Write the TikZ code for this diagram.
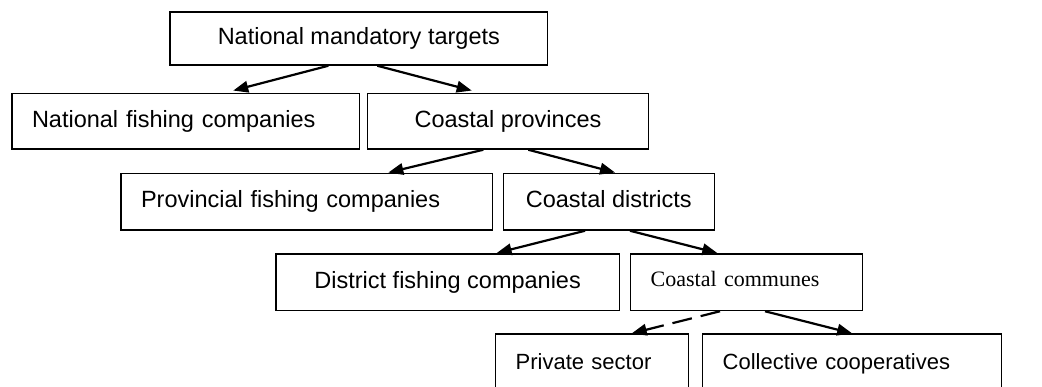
\documentclass[tikz,border=0pt]{standalone}
\usepackage{fontspec}
\setmainfont{Liberation Sans}
\newfontfamily\serifcc{Liberation Serif}
\usetikzlibrary{arrows.meta}

\begin{document}
\begin{tikzpicture}[node distance=80.5pt]
        % styles %
        \tikzstyle{level} = [rectangle,draw,line width=1.5pt,inner ysep=0pt,font=\fontsize{23.5}{28}\selectfont,text height=17pt,text depth=5pt];
        \tikzstyle{cbox} = [level];
        \tikzstyle{lbox} = [level,align=left,inner xsep=20pt];
        \tikzstyle{lowbox} = [lbox,font=\fontsize{22}{26}\selectfont,text height=16pt,text depth=2pt];
        \tikzstyle{dep} = [draw,line width=2.2pt,-{Triangle[length=15pt,width=11.5pt]}];
        \tikzstyle{depdash} = [dep,dash pattern=on 20pt off 9pt];

        \useasboundingbox (0,0) rectangle (1042pt,-387pt);

        % nodes %
        \node [cbox,minimum width=377.7pt,minimum height=53pt] (nmt) at (358.85pt,-38.5pt) {National mandatory targets};

        \node [lbox,text width=307.3pt,minimum height=55.7pt] (nfc) [below of = nmt, xshift=-173.2pt, yshift=-2.15pt] {National fishing companies};
        \node [cbox,minimum width=280.6pt,minimum height=55.7pt] (cp) [below of = nmt, xshift=149.15pt, yshift=-2.15pt] {Coastal provinces};

        \node [lbox,text width=331.3pt,minimum height=56.7pt] (pfc) [below of = cp, xshift=-201.35pt] {Provincial fishing companies};
        \node [cbox,minimum width=211pt,minimum height=56.7pt] (cd) [below of = cp, xshift=100.8pt] {Coastal districts};

        \node [cbox,minimum width=343.3pt,minimum height=56.7pt] (dfc) [below of = cd, xshift=-161.15pt] {District fishing companies};
        \node [lbox,text width=192pt,minimum height=56.7pt,font=\serifcc\fontsize{22}{26}\selectfont,text height=15pt,text depth=6pt] (cc) [below of = cd, xshift=137.9pt] {Coastal communes};

        \node [lowbox,text width=152.6pt,minimum height=57pt] (ps) [below of = cc, xshift=-154.7pt] {Private sector};
        \node [lowbox,text width=259pt,minimum height=57pt] (coc) [below of = cc, xshift=105.5pt] {Collective cooperatives};

        % edges %
        \draw[dep] ([xshift=-30.5pt]nmt.south) -- ([xshift=47.6pt,yshift=2pt]nfc.north);
        \draw[dep] ([xshift=18.5pt]nmt.south) -- ([xshift=-36.3pt,yshift=2pt]cp.north);
        \draw[dep] ([xshift=-24.7pt]cp.south) -- ([xshift=81.7pt]pfc.north);
        \draw[dep] ([xshift=20.3pt]cp.south) -- ([xshift=6.2pt]cd.north);
        \draw[dep] ([xshift=-23.8pt]cd.south) -- ([xshift=49pt]dfc.north);
        \draw[dep] ([xshift=21.2pt]cd.south) -- ([xshift=-29.4pt]cc.north);
        \draw[depdash] ([xshift=-26.7pt]cc.south) -- ([xshift=39.7pt]ps.north);
        \draw[dep] ([xshift=18.3pt]cc.south) -- (coc.north);
\end{tikzpicture}
\end{document}
